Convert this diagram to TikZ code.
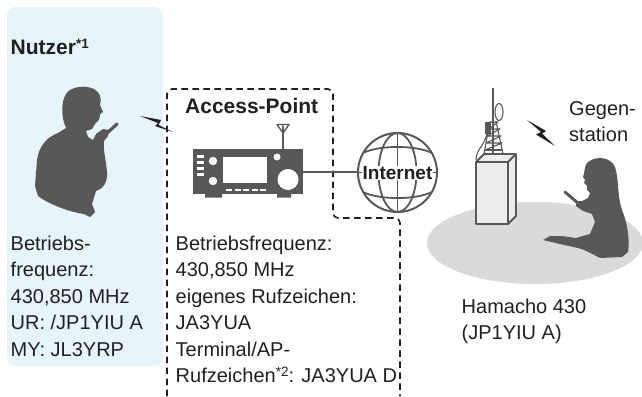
\documentclass[tikz,border=0pt]{standalone}
\usepackage{fontspec}
\setmainfont{Liberation Sans}
\definecolor{ink}{HTML}{231F20}
\definecolor{userbg}{HTML}{E6F4FC}
\definecolor{sil}{HTML}{585858}
\definecolor{ground}{HTML}{DADADA}
\definecolor{bldg}{HTML}{ECECEC}
\newcommand{\supmark}[1]{\raisebox{6pt}{\fontsize{13.5}{13.5}\selectfont #1}}
\begin{document}
\begin{tikzpicture}[x=1pt,y=-1pt,
  txt/.style={text=ink, inner sep=0pt, anchor=base west,
    font=\fontsize{20}{26.5}\selectfont},
  bold/.style={txt, font=\bfseries\fontsize{21}{26.5}\selectfont},
  apline/.style={draw=ink, line width=1.6pt, dash pattern=on 6.5pt off 4.5pt, rounded corners=5pt},
  grayline/.style={draw=sil, line width=2pt},
  bolt/.style={fill=ink},
  knob/.style={fill=white},
  tower/.style={draw=sil, line width=1.1pt, line join=round}]
\useasboundingbox (0,0) rectangle (642,396);

% user panel
\fill[userbg, rounded corners=8pt] (7,7) rectangle (163,366);
\node[bold] (nutzer) at (10.5,55) {Nutzer\supmark{*1}};

% user silhouette with handheld
\fill[sil] (66,128) .. controls (61,117) and (61,102) .. (66,94)
  .. controls (71,86) and (86,85) .. (94,89)
  .. controls (100,92) and (102,99) .. (100,105)
  -- (103,112) -- (100,114)
  .. controls (100,119) and (98,122) .. (95,124)
  -- (92,129) -- (86,131) -- (88,137)
  -- (93,140) -- (96,134) -- (103,129) -- (109,130) -- (108,136) -- (104,141)
  .. controls (103,150) and (106,160) .. (107,172)
  .. controls (108,182) and (103,189) .. (96,191)
  -- (92,204) -- (95,212) -- (90,217) -- (84,214)
  .. controls (70,212) and (50,205) .. (38,196)
  -- (35,186) -- (37,160)
  .. controls (39,146) and (47,137) .. (58,133) -- cycle;
\draw[sil, line width=3.2pt, line cap=round] (106,134) -- (117,124);

\node[txt] (usertext) at (10.5,250) {\begin{tabular}[t]{@{}l@{}}Betriebs-\\frequenz:\\430,850 MHz\\UR: /JP1YIU A\\MY: JL3YRP\end{tabular}};

% radio link user -> access point
\fill[bolt] (140,116) -- (161,120) -- (158.5,125) -- (173,132) -- (155,126) -- (158,123) -- cycle;

% access point frame
\draw[apline] (167,396) -- (167,89) -- (333,89) -- (333,218) -- (400,218) -- (400,396);
\node[bold] (aptitle) at (185,113) {Access-Point};

% transceiver
\node[fill=sil, minimum width=110, minimum height=45, inner sep=0pt, anchor=north west] (radio) at (193,149) {};
\fill[sil] (205,193) rectangle (222,197.5) (277,193) rectangle (291,197.5);
\draw[sil, line width=1.8pt] (283,149) -- (283,127);
\draw[sil, line width=1.4pt, line join=round] (277,124.5) -- (289,124.5) -- (283,133) -- cycle (283,124.5) -- (283,131);
\foreach \yy in {155,161,167,173} \fill[white] (197,\yy) rectangle (203.5,\yy+2.6);
\fill[knob] (213,161) circle[radius=4.2] (213,181) circle[radius=4.2] (277,157) circle[radius=3.5] (288,179.5) circle[radius=10.5];
\fill[white] (223,157) rectangle (267,183);
\foreach \xx in {226,234.5,243,251.5,260} \fill[white] (\xx,188.5) rectangle (\xx+6.3,191.2);

% internet globe
\node[circle, draw=sil, line width=2pt, minimum size=79, inner sep=0pt] (globe) at (397.5,172.5) {};
\draw[grayline] (radio.east) -- (radio.east -| globe.west);
\begin{scope}[draw=sil, line width=1.8pt]
  \draw (397.5,133) -- (397.5,212);
  \draw (397.5,172.5) ellipse[x radius=19, y radius=39.5];
  \draw (358,172.5) -- (437,172.5);
  \draw (363.3,152.8) .. controls (380,145) and (415,145) .. (431.7,152.8);
  \draw (363.3,192.2) .. controls (380,200) and (415,200) .. (431.7,192.2);
\end{scope}
\node[fill=white, inner sep=0.6pt, text=ink, font=\bfseries\fontsize{19}{19}\selectfont] (inet) at (397.5,173) {Internet};

\node[txt] (aptext) at (175.5,250) {\begin{tabular}[t]{@{}l@{}}Betriebsfrequenz:\\430,850 MHz\\eigenes Rufzeichen:\\JA3YUA\\Terminal/AP-\\Rufzeichen\supmark{*2}: JA3YUA D\end{tabular}};

% repeater site
\fill[ground] (535,243) ellipse[x radius=108, y radius=41];
\filldraw[fill=bldg, draw=sil, line width=1.8pt, line join=round]
  (476,162) -- (476,224) -- (508,224) -- (516,216) -- (516,154) -- (484,154) -- cycle;
\draw[sil, line width=1.8pt, line join=round] (476,162) -- (508,162) -- (516,154) (508,162) -- (508,224);
\draw[tower] (493,88) -- (493,154);
\draw[tower] (484,154) -- (490,121) (503,154) -- (496,121);
\draw[tower] (485,150) -- (502,143) -- (486,143) -- (501,136) -- (487,136) -- (500,129) -- (489,129) -- (498,122) -- (490,122);
\draw[tower] (485,150) -- (502,150);
\draw[tower] (499,112) ellipse[x radius=4, y radius=8.5];
\fill[sil] (485,122) rectangle (491,134);
\draw[tower] (487,134) .. controls (484,146) and (476,150) .. (476,160);

\fill[bolt] (527,120) -- (546,131) -- (542,133.5) -- (555,146) -- (536,134.5) -- (541,132) -- cycle;
\node[txt] (gegen) at (569,115) {\begin{tabular}[t]{@{}l@{}}Gegen-\\station\end{tabular}};

% station operator
\fill[sil] (587,163) .. controls (595,155) and (611,157) .. (615,167)
  .. controls (619,178) and (617,196) .. (622,210)
  .. controls (627,222) and (630,238) .. (628,252)
  -- (622,257) -- (600,258)
  .. controls (592,254) and (586,250) .. (578,248)
  -- (560,244) -- (543,240) -- (550,236) -- (562,236) -- (576,238)
  -- (590,234) -- (595,222) -- (592,214) -- (583,211) -- (576,206) -- (576,201)
  -- (582,201) -- (588,198) -- (590,193) -- (587,190) -- (587,186) -- (584,183) -- (585,180) -- (583,177)
  .. controls (585,172) and (584,167) .. (587,163) -- cycle;
\draw[sil, line width=3pt, line cap=round] (565,192) -- (579,204);

\node[txt] (hamacho) at (461.5,313) {\begin{tabular}[t]{@{}l@{}}Hamacho 430\\(JP1YIU A)\end{tabular}};
\end{tikzpicture}
\end{document}
